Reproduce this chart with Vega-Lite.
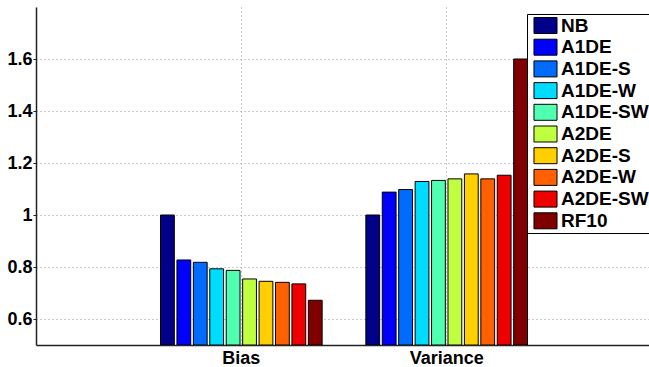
{
  "$schema": "https://vega.github.io/schema/vega-lite/v6.json",
  "width": 616,
  "height": 338,
  "autosize": {"type": "none"},
  "padding": {"left": 36, "top": 7, "right": 0, "bottom": 22},
  "background": "white",
  "config": {"view": {"stroke": null}, "font": "Liberation Sans"},
  "data": {
    "values": [
      {"measure": "Bias", "method": "NB", "value": 1.0},
      {"measure": "Bias", "method": "A1DE", "value": 0.827},
      {"measure": "Bias", "method": "A1DE-S", "value": 0.818},
      {"measure": "Bias", "method": "A1DE-W", "value": 0.793},
      {"measure": "Bias", "method": "A1DE-SW", "value": 0.787},
      {"measure": "Bias", "method": "A2DE", "value": 0.754},
      {"measure": "Bias", "method": "A2DE-S", "value": 0.745},
      {"measure": "Bias", "method": "A2DE-W", "value": 0.741},
      {"measure": "Bias", "method": "A2DE-SW", "value": 0.735},
      {"measure": "Bias", "method": "RF10", "value": 0.672},
      {"measure": "Variance", "method": "NB", "value": 1.0},
      {"measure": "Variance", "method": "A1DE", "value": 1.088},
      {"measure": "Variance", "method": "A1DE-S", "value": 1.098},
      {"measure": "Variance", "method": "A1DE-W", "value": 1.129},
      {"measure": "Variance", "method": "A1DE-SW", "value": 1.133},
      {"measure": "Variance", "method": "A2DE", "value": 1.139},
      {"measure": "Variance", "method": "A2DE-S", "value": 1.158},
      {"measure": "Variance", "method": "A2DE-W", "value": 1.139},
      {"measure": "Variance", "method": "A2DE-SW", "value": 1.153},
      {"measure": "Variance", "method": "RF10", "value": 1.6}
    ]
  },
  "mark": {"type": "bar", "stroke": "black", "strokeWidth": 1, "clip": true},
  "encoding": {
    "x": {
      "field": "measure",
      "type": "nominal",
      "scale": {"domain": ["Bias", "Variance"], "paddingInner": 0.2, "paddingOuter": 0.6},
      "axis": {
        "title": null,
        "labelAngle": 0,
        "labelFont": "Liberation Sans",
        "labelFontSize": 18,
        "labelFontWeight": "bold",
        "labelColor": "black",
        "labelPadding": 4,
        "ticks": false,
        "domainColor": "#222222",
        "domainWidth": 1.5,
        "grid": true,
        "gridColor": "#999999",
        "gridDash": [1, 3],
        "gridWidth": 1
      }
    },
    "xOffset": {
      "field": "method",
      "type": "nominal",
      "scale": {
        "domain": ["NB", "A1DE", "A1DE-S", "A1DE-W", "A1DE-SW", "A2DE", "A2DE-S", "A2DE-W", "A2DE-SW", "RF10"],
        "paddingInner": 0.16,
        "paddingOuter": 0.08
      }
    },
    "y": {
      "field": "value",
      "type": "quantitative",
      "scale": {"domain": [0.5, 1.8], "zero": false, "nice": false},
      "axis": {
        "title": null,
        "values": [0.6, 0.8, 1.0, 1.2, 1.4, 1.6],
        "format": "~g",
        "labelFont": "Liberation Sans",
        "labelFontSize": 18,
        "labelFontWeight": "bold",
        "labelColor": "black",
        "labelPadding": 1,
        "tickSize": 3,
        "tickColor": "#222222",
        "domainColor": "#222222",
        "domainWidth": 1.5,
        "grid": true,
        "gridColor": "#999999",
        "gridDash": [1, 3],
        "gridWidth": 1
      }
    },
    "y2": {"datum": 0.5},
    "color": {
      "field": "method",
      "type": "nominal",
      "scale": {
        "domain": ["NB", "A1DE", "A1DE-S", "A1DE-W", "A1DE-SW", "A2DE", "A2DE-S", "A2DE-W", "A2DE-SW", "RF10"],
        "range": ["#000088", "#0000FF", "#006CFF", "#00DCFF", "#50FFAF", "#BFFF40", "#FFCF00", "#FF6000", "#EF0000", "#800000"]
      },
      "legend": {
        "title": null,
        "orient": "none",
        "legendX": 491,
        "legendY": 7,
        "strokeColor": "black",
        "fillColor": "white",
        "padding": 2,
        "symbolType": "M-1.44,-1H1.44V1H-1.44Z",
        "symbolSize": 256,
        "symbolOffset": 7,
        "symbolStrokeColor": "black",
        "symbolStrokeWidth": 1,
        "symbolOpacity": 1,
        "labelFont": "Liberation Sans",
        "labelFontSize": 19,
        "labelFontWeight": "bold",
        "labelColor": "black",
        "labelOffset": 6,
        "rowPadding": 0.7
      }
    }
  }
}
